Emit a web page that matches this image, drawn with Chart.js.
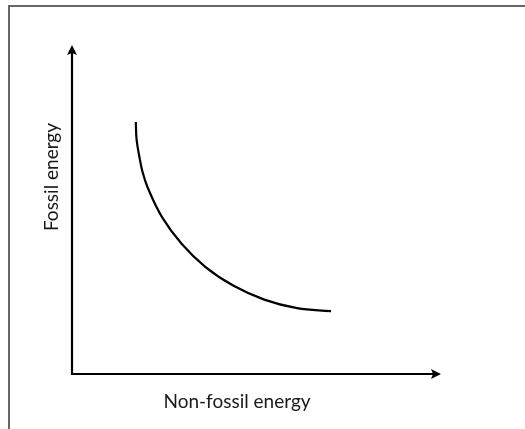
<!DOCTYPE html>
<html>
<head>
<meta charset="utf-8">
<script src="https://cdn.jsdelivr.net/npm/chart.js@4"></script>
<style>
    body { margin: 0; background: #fff; }
    #wrap { position: relative; width: 525px; height: 429px; overflow: hidden; }
    #frame { position: absolute; left: 8px; top: 5px; width: 600px; height: 500px;
             border-top: 2px solid #666; border-left: 2px solid #666; pointer-events: none; }
</style>
</head>
<body>
<div id="wrap">
    <canvas id="curveChart" width="525" height="429"></canvas>
    <div id="frame"></div>
</div>
<script>
// values (arbitrary units, axes run 0..10)
const nonFossil = [1.73, 1.75, 1.82, 1.91, 2.05, 2.44, 2.97, 3.62, 4.38, 5.21, 6.10, 7.02];
const fossil    = [7.66, 7.13, 6.64, 6.15, 5.67, 4.77, 3.96, 3.25, 2.68, 2.26, 2.00, 1.91];
const xTitle = 'Non-fossil energy';
const yTitle = 'Fossil energy';

const axesPlugin = {
    id: 'arrowAxes',
    afterDraw(chart) {
        const { ctx, chartArea: a } = chart;
        ctx.save();
        ctx.strokeStyle = '#000';
        ctx.fillStyle = '#000';
        ctx.lineWidth = 2.2;
        ctx.beginPath();
        ctx.moveTo(a.left, a.top + 6);
        ctx.lineTo(a.left, a.bottom);
        ctx.lineTo(a.right - 6, a.bottom);
        ctx.stroke();
        // arrow heads
        ctx.beginPath();
        ctx.moveTo(a.left, a.top);
        ctx.lineTo(a.left - 5, a.top + 10);
        ctx.lineTo(a.left, a.top + 8);
        ctx.lineTo(a.left + 5, a.top + 10);
        ctx.closePath();
        ctx.fill();
        ctx.beginPath();
        ctx.moveTo(a.right, a.bottom);
        ctx.lineTo(a.right - 10, a.bottom - 5);
        ctx.lineTo(a.right - 8, a.bottom);
        ctx.lineTo(a.right - 10, a.bottom + 5);
        ctx.closePath();
        ctx.fill();
        // titles
        ctx.font = '19px Lato';
        ctx.fillStyle = '#1a1a1a';
        ctx.textAlign = 'center';
        ctx.textBaseline = 'alphabetic';
        ctx.fillText(xTitle, 237, 408);
        ctx.translate(58, 177);
        ctx.rotate(-Math.PI / 2);
        ctx.fillText(yTitle, 0, 0);
        ctx.restore();
    }
};

new Chart(document.getElementById('curveChart'), {
    type: 'scatter',
    data: {
        datasets: [{
            data: nonFossil.map((x, i) => ({ x: x, y: fossil[i] })),
            showLine: true,
            borderColor: '#000',
            borderWidth: 2.2,
            pointRadius: 0,
            tension: 0.4,
        }]
    },
    options: {
        responsive: false,
        animation: false,
        layout: { padding: { left: 72, top: 45, right: 84, bottom: 55 } },
        plugins: { legend: { display: false }, tooltip: { enabled: false } },
        scales: {
            x: { type: 'linear', min: 0, max: 10, display: false },
            y: { type: 'linear', min: 0, max: 10, display: false }
        }
    },
    plugins: [axesPlugin]
});
</script>
</body>
</html>
